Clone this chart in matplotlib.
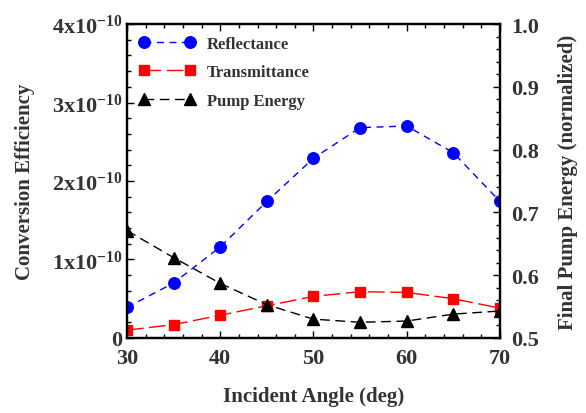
import numpy as np
import matplotlib
matplotlib.use('Agg')
import matplotlib.pyplot as plt
from matplotlib.ticker import MultipleLocator, AutoMinorLocator, FuncFormatter

# данные
angle = [30, 35, 40, 45, 50, 55, 60, 65, 70]
reflectance = [0.39e-10, 0.70e-10, 1.16e-10, 1.74e-10, 2.29e-10, 2.68e-10, 2.70e-10, 2.36e-10, 1.74e-10]
transmittance = [0.10e-10, 0.17e-10, 0.29e-10, 0.41e-10, 0.53e-10, 0.59e-10, 0.58e-10, 0.50e-10, 0.38e-10]
pump_energy = [0.671, 0.628, 0.587, 0.553, 0.530, 0.525, 0.527, 0.538, 0.543]

txt = '#333333'
plt.rcParams['font.family'] = 'Liberation Serif'
plt.rcParams['font.weight'] = 'bold'
plt.rcParams['axes.labelweight'] = 'bold'
plt.rcParams['mathtext.fontset'] = 'custom'
plt.rcParams['mathtext.rm'] = 'Liberation Serif:bold'
plt.rcParams['mathtext.it'] = 'Liberation Serif:bold'
plt.rcParams['mathtext.bf'] = 'Liberation Serif:bold'

fig = plt.figure(figsize=(5.86, 4.14), dpi=100)
ax = fig.add_axes([0.2167, 0.1812, 0.6365, 0.7584])
ax2 = ax.twinx()

l1, = ax.plot(angle, reflectance, color='#0000ff', marker='o', markersize=8.3,
              lw=1, dashes=(5, 4), label='Reflectance')
l2, = ax.plot(angle, transmittance, color='#ff0000', marker='s', markersize=7.8,
              lw=1, dashes=(12, 4), label='Transmittance')
l3, = ax2.plot(angle, pump_energy, color='black', marker='^', markersize=8.5,
               lw=1, dashes=(7, 4), label='Pump Energy')

ax.set_xlim(30, 70)
ax.set_ylim(0, 4e-10)
ax2.set_ylim(0.5, 1.0)

ax.xaxis.set_major_locator(MultipleLocator(10))
ax.xaxis.set_minor_locator(MultipleLocator(2))
ax.yaxis.set_major_locator(MultipleLocator(1e-10))
ax.yaxis.set_minor_locator(AutoMinorLocator(5))
ax2.yaxis.set_major_locator(MultipleLocator(0.1))
ax2.yaxis.set_minor_locator(AutoMinorLocator(5))

def sci(v, pos):
    n = int(round(v / 1e-10))
    if n == 0:
        return '0'
    return r'$\mathregular{%dx10^{-10}}$' % n

ax.yaxis.set_major_formatter(FuncFormatter(sci))
ax2.yaxis.set_major_formatter(FuncFormatter(lambda v, p: '%.1f' % v))

ax.tick_params(which='both', direction='in', top=True, right=False, colors='black',
               labelcolor=txt, labelsize=16, width=1)
ax.tick_params(which='major', length=5)
ax.tick_params(which='minor', length=3)
ax.tick_params(axis='x', pad=7)
ax2.tick_params(which='both', direction='in', labelcolor=txt, labelsize=16, width=1)
ax2.tick_params(which='major', length=5)
ax2.tick_params(which='minor', length=3)
ax2.tick_params(axis='y', pad=8)

for a in (ax, ax2):
    for s in a.spines.values():
        s.set_linewidth(1.6)

ax.set_xlabel('Incident Angle (deg)', fontsize=15, color=txt, labelpad=13)
ax.set_ylabel('Conversion Efficiency', fontsize=15, color=txt, labelpad=12)
ax2.set_ylabel('Final Pump Energy (normalized)', fontsize=15, color=txt, labelpad=14)

leg = ax2.legend([l1, l2, l3], ['Reflectance', 'Transmittance', 'Pump Energy'],
                 loc='upper left', frameon=False, numpoints=2, handlelength=3.4,
                 fontsize=12, labelspacing=0.75, borderaxespad=0.3, handletextpad=0.7)
for t in leg.get_texts():
    t.set_color(txt)

fig.savefig('out.png', dpi=100)
